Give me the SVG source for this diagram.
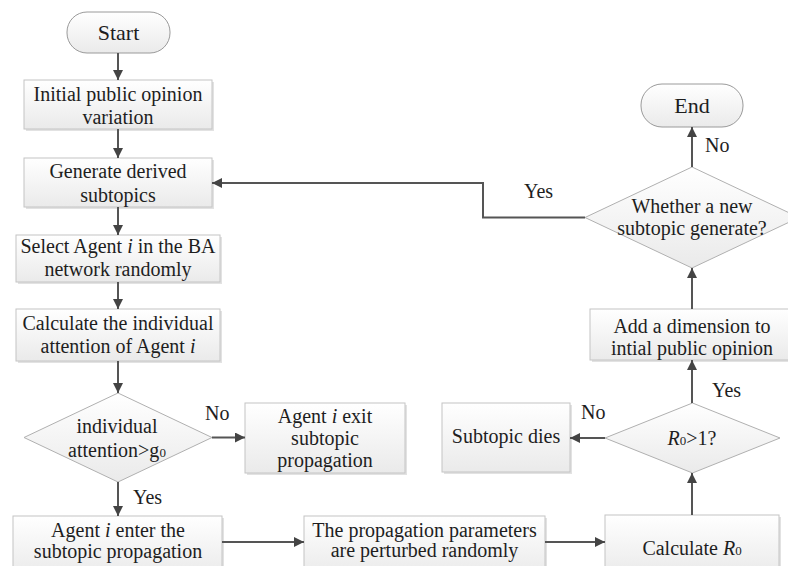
<svg xmlns="http://www.w3.org/2000/svg" width="788" height="566" viewBox="0 0 788 566">
<defs>
<linearGradient id="g" x1="0" y1="0" x2="0" y2="1">
<stop offset="0" stop-color="#ffffff"/>
<stop offset="1" stop-color="#eaeaea"/>
</linearGradient>
<marker id="a" viewBox="0 0 10 10" refX="10" refY="5" markerWidth="10" markerHeight="10" markerUnits="userSpaceOnUse" orient="auto">
<path d="M0,0 L10,5 L0,10 z" fill="#444"/>
</marker>
<style>
.box{fill:url(#g);stroke:#c4c4c4;stroke-width:1}
.sh{fill:#e2e2e2;stroke:none}
.term{fill:url(#g);stroke:#9a9a9a;stroke-width:1}
.dia{fill:url(#g);stroke:#b0b0b0;stroke-width:1}
text{font-family:"Liberation Serif","Times New Roman",serif;font-size:20px;fill:#1e1e1e;text-anchor:middle}
.tt{font-size:22px}
.lbl{text-anchor:start}
.c{fill:none;stroke:#555;stroke-width:2;marker-end:url(#a)}
</style>
</defs>
<rect width="788" height="566" fill="#fff"/>

<g id="start">
<rect x="67" y="12" width="103" height="41" rx="20" class="term"/>
<text x="118.5" y="40" class="tt">Start</text>
</g>
<g id="initial">
<rect x="26" y="82" width="188" height="49" class="sh"/>
<rect x="24" y="80" width="188" height="49" class="box"/>
<text x="118" y="101">Initial public opinion</text>
<text x="118" y="124">variation</text>
</g>
<g id="generate">
<rect x="26" y="160" width="188" height="49" class="sh"/>
<rect x="24" y="158" width="188" height="49" class="box"/>
<text x="118" y="178">Generate derived</text>
<text x="118" y="202">subtopics</text>
</g>
<g id="select">
<rect x="18" y="237" width="204" height="47" class="sh"/>
<rect x="16" y="235" width="204" height="47" class="box"/>
<text x="118" y="253">Select Agent <tspan font-style="italic">i</tspan> in the BA</text>
<text x="118" y="276">network randomly</text>
</g>
<g id="calc">
<rect x="18" y="311" width="204" height="52" class="sh"/>
<rect x="16" y="309" width="204" height="52" class="box"/>
<text x="118" y="330">Calculate the individual</text>
<text x="118" y="353">attention of Agent <tspan font-style="italic">i</tspan></text>
</g>
<g id="attn">
<polygon points="118,393 212,437.5 118,482 24,437.5" class="dia"/>
<text x="117" y="433">individual</text>
<text x="117" y="457">attention&gt;g<tspan font-size="13">0</tspan></text>
</g>
<g id="exit">
<rect x="247" y="405" width="160" height="70" class="sh"/>
<rect x="245" y="403" width="160" height="70" class="box"/>
<text x="325" y="423">Agent <tspan font-style="italic">i</tspan> exit</text>
<text x="325" y="445">subtopic</text>
<text x="325" y="467">propagation</text>
</g>
<g id="enter">
<rect x="15" y="518" width="209" height="60" class="sh"/>
<rect x="13" y="516" width="209" height="60" class="box"/>
<text x="118" y="537">Agent <tspan font-style="italic">i</tspan> enter the</text>
<text x="118" y="558">subtopic propagation</text>
</g>
<g id="perturb">
<rect x="306" y="518" width="241" height="60" class="sh"/>
<rect x="304" y="516" width="241" height="60" class="box"/>
<text x="424.5" y="537">The propagation parameters</text>
<text x="424.5" y="557">are perturbed randomly</text>
</g>
<g id="calcR0">
<rect x="607" y="517" width="174" height="60" class="sh"/>
<rect x="605" y="515" width="174" height="60" class="box"/>
<text x="692" y="555">Calculate <tspan font-style="italic">R</tspan><tspan font-size="13">0</tspan></text>
</g>
<g id="r0check">
<polygon points="692.5,403 780,438 692.5,473 605,438" class="dia"/>
<text x="692" y="445"><tspan font-style="italic">R</tspan><tspan font-size="13">0</tspan>&gt;1?</text>
</g>
<g id="dies">
<rect x="444" y="405" width="128" height="69" class="sh"/>
<rect x="442" y="403" width="128" height="69" class="box"/>
<text x="506" y="443">Subtopic dies</text>
</g>
<g id="adddim">
<rect x="592" y="311" width="204" height="51" class="sh"/>
<rect x="590" y="309" width="204" height="51" class="box"/>
<text x="692" y="333">Add a dimension to</text>
<text x="692" y="355">intial public opinion</text>
</g>
<g id="newsub">
<polygon points="692,167 799,217.5 692,268 585,217.5" class="dia"/>
<text x="692" y="213">Whether a new</text>
<text x="692" y="235">subtopic generate?</text>
</g>
<g id="end">
<rect x="641" y="84" width="102" height="43" rx="21" class="term"/>
<text x="692" y="113" class="tt">End</text>
</g>

<g id="connectors">
<line x1="118" y1="53" x2="118" y2="80" class="c"/>
<line x1="118" y1="129" x2="118" y2="158" class="c"/>
<line x1="118" y1="207" x2="118" y2="235" class="c"/>
<line x1="118" y1="282" x2="118" y2="309" class="c"/>
<line x1="118" y1="361" x2="118" y2="393" class="c"/>
<line x1="212" y1="437.5" x2="245" y2="437.5" class="c"/>
<line x1="118" y1="482" x2="118" y2="516" class="c"/>
<line x1="222" y1="542" x2="304" y2="542" class="c"/>
<line x1="545" y1="542" x2="605" y2="542" class="c"/>
<line x1="692" y1="515" x2="692" y2="473" class="c"/>
<line x1="605" y1="438" x2="570" y2="438" class="c"/>
<line x1="692" y1="403" x2="692" y2="360" class="c"/>
<line x1="692" y1="309" x2="692" y2="268" class="c"/>
<line x1="692" y1="167" x2="692" y2="127" class="c"/>
<polyline points="585,217.5 483,217.5 483,183 212,183" class="c"/>
<text x="205" y="420" class="lbl">No</text>
<text x="133" y="504" class="lbl">Yes</text>
<text x="581" y="419" class="lbl">No</text>
<text x="712" y="397" class="lbl">Yes</text>
<text x="524" y="198" class="lbl">Yes</text>
<text x="705" y="152" class="lbl">No</text>
</g>
</svg>
